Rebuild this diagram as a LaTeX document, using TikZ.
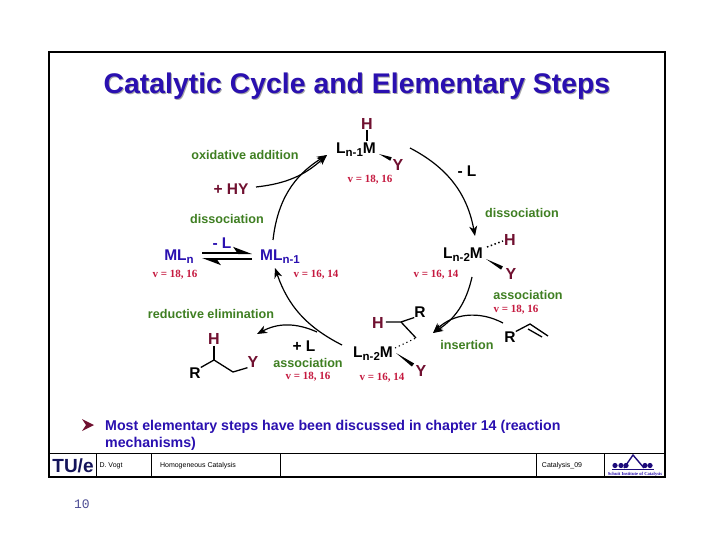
\documentclass[tikz,border=0pt]{standalone}
\usepackage{fontspec}
\setmainfont{Liberation Sans}
\newfontfamily\vfont{Liberation Serif}
\newfontfamily\nrfont{Liberation Mono}
\usetikzlibrary{arrows.meta, calc}
\definecolor{slide-blue}{HTML}{2A10B0}
\definecolor{step-green}{HTML}{3F7F22}
\definecolor{count-red}{HTML}{C5193F}
\definecolor{atom-maroon}{HTML}{701030}
\definecolor{tue-navy}{HTML}{14145A}
\newcommand{\lowr}[1]{\raisebox{-3.2pt}{\fontsize{11.5}{11.5}\selectfont #1}}
\newcommand{\wedgebond}[2]{\fill (#1) -- ($(#2)!1.9pt!90:(#1)$) -- ($(#2)!1.9pt!-90:(#1)$) -- cycle;}
\tikzset{
  every node/.style={inner sep=0pt, font=\bfseries},
  steplabel/.style={text=step-green, font=\fontsize{12.6}{12.6}\selectfont\bfseries},
  countlabel/.style={text=count-red, font=\vfont\fontsize{11}{11}\selectfont\bfseries},
  atomdark/.style={text=atom-maroon, font=\fontsize{16}{16}\selectfont\bfseries},
  atomblack/.style={text=black, font=\fontsize{15.5}{15.5}\selectfont\bfseries},
  metalblue/.style={text=slide-blue, font=\fontsize{15.5}{15.5}\selectfont\bfseries},
  signlabel/.style={font=\fontsize{15.5}{15.5}\selectfont\bfseries},
  bullettext/.style={anchor=west, text=slide-blue, font=\fontsize{14.2}{14.2}\selectfont\bfseries},
  footertext/.style={font=\fontsize{7}{7}\selectfont, text=black},
  bond/.style={line width=1.3pt, draw=black},
  cyclearrow/.style={-{Stealth[length=10pt,width=8pt,inset=3pt]}, line width=1.2pt, draw=black},
  eqarrow/.style={-{Stealth[harpoon,length=16pt,width=12pt,inset=4pt]}, line width=2pt, draw=black}
}
\begin{document}
\begin{tikzpicture}[x=1pt, y=-1pt]
    \useasboundingbox (0,0) rectangle (720,540);
    \fill[white] (0,0) rectangle (720,540);
    \node[text=black!35, font=\fontsize{28.4}{28.4}\selectfont\bfseries] (titleshadow) at (358,87.5) {Catalytic Cycle and Elementary Steps};
    \node[text=slide-blue, font=\fontsize{28.4}{28.4}\selectfont\bfseries] (title) at (357,86.5) {Catalytic Cycle and Elementary Steps};

    \node[metalblue] (MLn) at (179,257) {ML\lowr{n}};
    \node[metalblue] (MLn1) at (280,257) {ML\lowr{n-1}};
    \node[countlabel] (vMLn) at (175,275) {v = 18, 16};
    \node[countlabel] (vMLn1) at (316,275) {v = 16, 14};

    \node[atomblack] (M1) at (356,150) {L\lowr{n-1}M};
    \node[atomdark] (H1) at (367,123.5) {H};
    \node[atomdark] (Y1) at (398,165) {Y};
    \node[countlabel] (v1) at (370,180) {v = 18, 16};
    \draw[bond] (H1.south) ++(0,1) coordinate (H1b) -- (367,141) coordinate (M1t);
    \coordinate (w1a) at (379,154);
    \coordinate (w1b) at (391,159);
    \wedgebond{w1a}{w1b}

    \node[atomblack] (M2) at (463,255) {L\lowr{n-2}M};
    \node[atomdark] (H2) at (510,240) {H};
    \node[atomdark] (Y2) at (511,274) {Y};
    \node[countlabel] (v2) at (436,275) {v = 16, 14};
    \coordinate (d2a) at (487,247);
    \coordinate (d2b) at (503,241);
    \draw[line width=1.5pt, dash pattern=on 1.5pt off 2.5pt] (d2a) -- (d2b);
    \coordinate (w2a) at (486,259);
    \coordinate (w2b) at (502,268);
    \wedgebond{w2a}{w2b}

    \node[atomblack] (M3) at (373,354) {L\lowr{n-2}M};
    \node[atomdark] (H3) at (378,323) {H};
    \node[atomblack] (R3) at (420,312) {R};
    \node[atomdark] (Y3) at (421,371) {Y};
    \node[countlabel] (v3) at (382,378) {v = 16, 14};
    \coordinate (C3) at (401,322);
    \coordinate (C3e) at (416,338);
    \coordinate (d3a) at (395,348);
    \coordinate (w3a) at (396,353);
    \coordinate (w3b) at (413,365);
    \draw[bond] (H3.east) ++(2,-1) -- (C3) -- (R3.south west);
    \draw[bond] (C3) -- (C3e);
    \draw[line width=1.1pt, dash pattern=on 1.2pt off 3pt] (d3a) -- (C3e);
    \wedgebond{w3a}{w3b}

    \node[atomblack] (Ralk) at (510,337) {R};
    \coordinate (alk1) at (530,324);
    \coordinate (alk2) at (548,336);
    \coordinate (alk3) at (528,329);
    \coordinate (alk4) at (542,337);
    \draw[bond] (Ralk.north east) -- (alk1) -- (alk2);
    \draw[bond] (alk3) -- (alk4);

    \node[atomdark] (Hp) at (214,339) {H};
    \node[atomblack] (Rp) at (195,373) {R};
    \node[atomdark] (Yp) at (253,362) {Y};
    \coordinate (Cp1) at (214,360);
    \coordinate (Cp2) at (233,372);
    \draw[bond] (Hp.south) ++(0,1) -- (Cp1);
    \draw[bond] (Rp.north east) -- (Cp1) -- (Cp2) -- (Yp.south west);

    \node[steplabel] (oxadd) at (245,155) {oxidative addition};
    \node[signlabel, text=atom-maroon] (plusHY) at (231,189) {+ HY};
    \node[steplabel] (diss1) at (227,219) {dissociation};
    \node[signlabel, text=slide-blue] (minusL1) at (222,243) {- L};
    \node[signlabel] (minusL2) at (467,171) {- L};
    \node[steplabel] (diss2) at (522,213) {dissociation};
    \node[steplabel] (assoc1) at (528,295) {association};
    \node[countlabel] (v4) at (516,310) {v = 18, 16};
    \node[steplabel] (insert) at (467,345) {insertion};
    \node[steplabel] (redel) at (211,314) {reductive elimination};
    \node[signlabel] (plusL) at (304,346) {+ L};
    \node[steplabel] (assoc2) at (308,363) {association};
    \node[countlabel] (v5) at (308,377) {v = 18, 16};

    \coordinate (a1s) at (273,240);
    \coordinate (a1e) at (327,155);
    \coordinate (a2s) at (256,187);
    \coordinate (a3s) at (410,148);
    \coordinate (a3e) at (475,236);
    \coordinate (a4s) at (472,277);
    \coordinate (a4e) at (433,333);
    \coordinate (a5s) at (503,323);
    \coordinate (a6s) at (342,345);
    \coordinate (a6e) at (275,268);
    \coordinate (a7s) at (317,332);
    \coordinate (a7e) at (257,334);
    \draw[cyclearrow] (a1s) to[bend left=26] (a1e);
    \draw[cyclearrow] (a2s) to[bend right=18] (a1e);
    \draw[cyclearrow] (a3s) to[bend left=26] (a3e);
    \draw[cyclearrow] (a4s) to[bend left=22] (a4e);
    \draw[cyclearrow] (a5s) to[bend right=36] (a4e);
    \draw[cyclearrow] (a6s) to[bend left=22] (a6e);
    \draw[cyclearrow] (a7s) to[bend right=26] (a7e);

    \coordinate (eq1s) at (202,253);
    \coordinate (eq1e) at (252,253);
    \coordinate (eq2s) at (252,259);
    \coordinate (eq2e) at (202,259);
    \draw[eqarrow] (eq1s) -- (eq1e);
    \draw[eqarrow] (eq2s) -- (eq2e);

    \fill[atom-maroon] (82,419) -- (94,425) -- (82,431) -- (86,425) -- cycle;
    \node[bullettext] (bullet1) at (105,427) {Most elementary steps have been discussed in chapter 14 (reaction};
    \node[bullettext] (bullet2) at (105,444) {mechanisms)};

    \draw[line width=1.6pt] (49,52) rectangle (665,477);
    \draw[line width=1.1pt] (49,453.5) -- (665,453.5);
    \foreach \x in {96,151,280,536,604} {
      \draw[line width=0.9pt] (\x,453.5) -- (\x,477);
    }
    \node[text=tue-navy, font=\fontsize{19}{19}\selectfont\bfseries] (tue) at (73,465.5) {TU/e};
    \node[footertext] (author) at (111,466) {D. Vogt};
    \node[footertext] (course) at (198,466) {Homogeneous Catalysis};
    \node[footertext] (deck) at (562,466) {Catalysis\_09};

    \coordinate (peak) at (633,455);
    \coordinate (peakl) at (624,468);
    \coordinate (peakr) at (644,468);
    \draw[slide-blue!70!black, line width=1.4pt] (peakl) -- (peak) -- (peakr);
    \foreach \x in {615,621,626,645,650} {
      \fill[slide-blue!70!black] (\x,465.5) circle (2.6);
    }
    \draw[slide-blue!70!black, line width=0.8pt] (612,469) -- (654,469);
    \node[text=slide-blue, font=\vfont\fontsize{4.6}{4.6}\selectfont\bfseries] (logotext) at (635,474) {Schuit Institute of Catalysis};

    \node[text=blue!40!black!70, font=\nrfont\fontsize{13}{13}\selectfont\mdseries] (pageno) at (82,504) {10};
  \end{tikzpicture}
\end{document}
